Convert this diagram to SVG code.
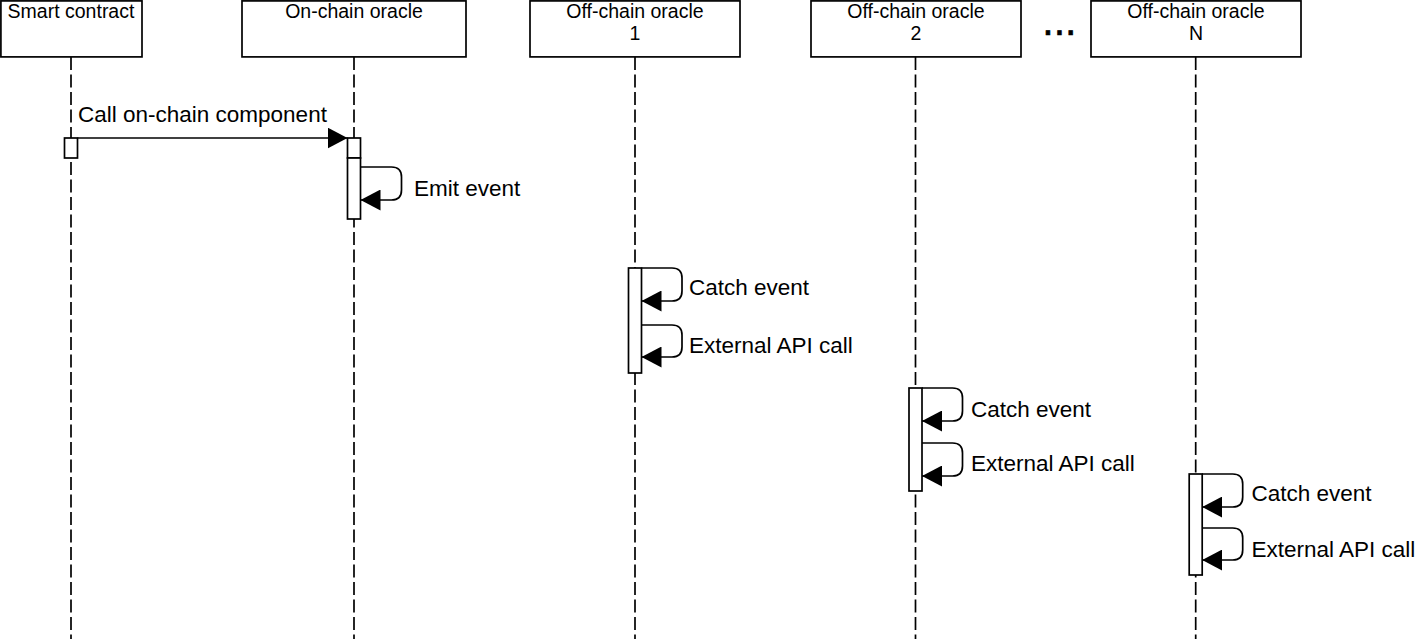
<svg xmlns="http://www.w3.org/2000/svg" width="1418" height="639" viewBox="0 0 1418 639">
<style>
.box{fill:#fff;stroke:#000;stroke-width:1.7}
.life{stroke:#000;stroke-width:1.7;stroke-dasharray:13 4.5;fill:none}
.act{fill:#fff;stroke:#000;stroke-width:1.7}
.hd{font-family:"Liberation Sans",Arial,sans-serif;font-size:19.5px;fill:#000;text-anchor:middle}
.msg{font-family:"Liberation Sans",Arial,sans-serif;font-size:22.5px;fill:#000}
.conn{fill:none;stroke:#000;stroke-width:1.7;marker-end:url(#ah)}
</style>
<defs>
<marker id="ah" viewBox="0 0 20 21" refX="20" refY="10.5" markerWidth="20" markerHeight="21" markerUnits="userSpaceOnUse" orient="auto">
<path d="M0,0 L20,10.5 L0,21 Z" fill="#000"/>
</marker>
</defs>
<rect width="1418" height="639" fill="#fff"/>
<g id="smart-contract">
<line class="life" x1="71" y1="57" x2="71" y2="639"/>
<rect class="box" x="0.9" y="0.9" width="141.1" height="56"/>
<text class="hd" x="71" y="17.5">Smart contract</text>
<rect class="act" x="64.5" y="138" width="13" height="20"/>
</g>
<g id="on-chain-oracle">
<line class="life" x1="354" y1="57" x2="354" y2="639"/>
<rect class="box" x="242" y="0.9" width="224" height="56"/>
<text class="hd" x="354" y="17.5">On-chain oracle</text>
<rect class="act" x="347.5" y="138" width="13" height="20"/>
<rect class="act" x="347.5" y="158" width="13" height="61"/>
</g>
<g id="off-chain-oracle-1">
<line class="life" x1="635" y1="57" x2="635" y2="639"/>
<rect class="box" x="530" y="0.9" width="210" height="56"/>
<text class="hd" x="635" y="17.5">Off-chain oracle</text>
<text class="hd" x="635" y="40">1</text>
<rect class="act" x="628.5" y="268" width="13" height="105"/>
</g>
<g id="off-chain-oracle-2">
<line class="life" x1="915.5" y1="57" x2="915.5" y2="639"/>
<rect class="box" x="811" y="0.9" width="210" height="56"/>
<text class="hd" x="916" y="17.5">Off-chain oracle</text>
<text class="hd" x="916" y="40">2</text>
<rect class="act" x="909" y="388" width="13" height="103"/>
</g>
<g id="ellipsis">
<text x="1042.3" y="35" style="font-family:'Liberation Sans',Arial,sans-serif;font-size:41px;fill:#000;stroke:#000;stroke-width:0.6">...</text>
</g>
<g id="off-chain-oracle-n">
<line class="life" x1="1195.7" y1="57" x2="1195.7" y2="639"/>
<rect class="box" x="1091" y="0.9" width="210" height="56"/>
<text class="hd" x="1196" y="17.5">Off-chain oracle</text>
<text class="hd" x="1196" y="40">N</text>
<rect class="act" x="1189.2" y="474" width="13" height="101"/>
</g>
<g id="connectors">
<path class="conn" d="M77.5,138 H347.5"/>
<text class="msg" x="78" y="121.5">Call on-chain component</text>
<path class="conn" d="M360.5,167 H391.5 Q401.5,167 401.5,177 V190 Q401.5,200 391.5,200 H360.5"/>
<text class="msg" x="414" y="196">Emit event</text>
<path class="conn" d="M641.5,268 H672 Q682,268 682,278 V291 Q682,301 672,301 H641.5"/>
<text class="msg" x="689" y="295">Catch event</text>
<path class="conn" d="M641.5,325 H672 Q682,325 682,335 V347 Q682,357 672,357 H641.5"/>
<text class="msg" x="689" y="352.5">External API call</text>
<path class="conn" d="M922,388 H952.5 Q962.5,388 962.5,398 V411 Q962.5,421 952.5,421 H922"/>
<text class="msg" x="971" y="416.5">Catch event</text>
<path class="conn" d="M922,443 H952.5 Q962.5,443 962.5,453 V466 Q962.5,476 952.5,476 H922"/>
<text class="msg" x="971" y="470.5">External API call</text>
<path class="conn" d="M1202.2,474 H1232.7 Q1242.7,474 1242.7,484 V497 Q1242.7,507 1232.7,507 H1202.2"/>
<text class="msg" x="1251.5" y="501">Catch event</text>
<path class="conn" d="M1202.2,528 H1232.7 Q1242.7,528 1242.7,538 V550 Q1242.7,560 1232.7,560 H1202.2"/>
<text class="msg" x="1251.5" y="557">External API call</text>
</g>
</svg>
